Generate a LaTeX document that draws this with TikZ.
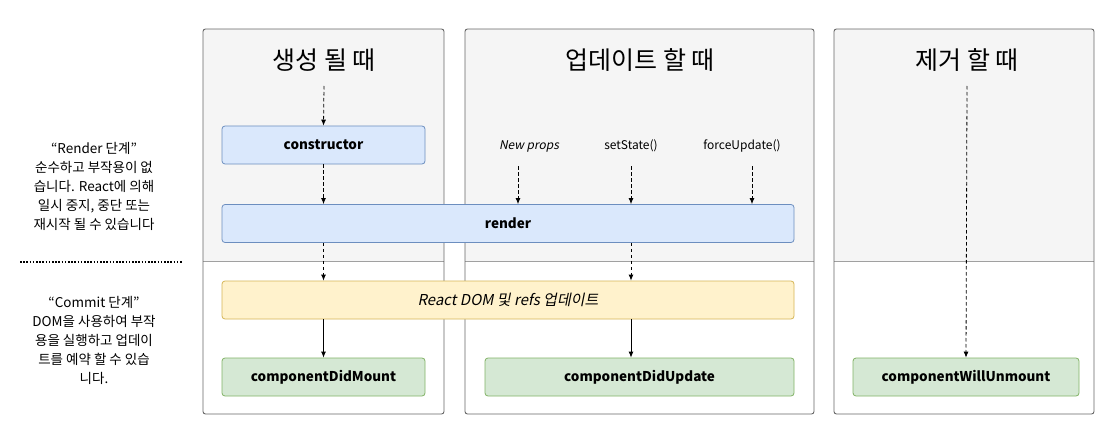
\documentclass[tikz,border=0pt]{standalone}
\usepackage{fontspec}
\setmainfont{Noto Sans CJK KR}[AutoFakeSlant=0.2]
\usetikzlibrary{arrows.meta}
\definecolor{laneGray}{HTML}{F5F5F5}
\definecolor{laneLine}{HTML}{666666}
\definecolor{splitLine}{HTML}{A0A0A0}
\definecolor{blueFill}{HTML}{DAE8FC}
\definecolor{blueLine}{HTML}{6C8EBF}
\definecolor{yellowFill}{HTML}{FFF2CC}
\definecolor{yellowLine}{HTML}{D6B656}
\definecolor{greenFill}{HTML}{D5E8D4}
\definecolor{greenLine}{HTML}{82B366}
\begin{document}
\begin{tikzpicture}[x=1pt, y=-1pt, line join=round,
    lane/.style={draw=laneLine, line width=0.9pt, rounded corners=2.5pt},
    box/.style={rounded corners=3pt, line width=0.8pt, minimum height=38pt,
      inner sep=0pt, text=black},
    bluebox/.style={box, draw=blueLine, fill=blueFill, font=\bfseries\fontsize{13.5}{16}\selectfont},
    yellowbox/.style={box, draw=yellowLine, fill=yellowFill, font=\itshape\fontsize{15}{18}\selectfont},
    greenbox/.style={box, draw=greenLine, fill=greenFill, font=\bfseries\fontsize{13.5}{16}\selectfont},
    title/.style={font=\fontsize{25}{28}\selectfont},
    trigger/.style={font=\fontsize{12}{14}\selectfont},
    note/.style={align=center, font=\fontsize{13.5}{19}\selectfont},
    flow/.style={-{Latex[length=6pt,width=5pt]}, line width=0.8pt},
    dflow/.style={flow, dash pattern=on 3.5pt off 2.5pt}]
  \useasboundingbox (0,0) rectangle (1100,433);
  % 세 개의 열
  \foreach \xa/\xb in {203/444, 465/814, 834/1094} {
    \begin{scope}
      \clip[rounded corners=2.5pt] (\xa,29) rectangle (\xb,414);
      \fill[white] (\xa,29) rectangle (\xb,414);
      \fill[laneGray] (\xa,29) rectangle (\xb,261);
    \end{scope}
    \draw[splitLine, line width=0.8pt] (\xa,261) -- (\xb,261);
    \draw[lane] (\xa,29) rectangle (\xb,414);
  }
  \node[title] (tMount) at (324,60) {생성 될 때};
  \node[title] (tUpdate) at (640,60) {업데이트 할 때};
  \node[title] (tUnmount) at (967,60) {제거 할 때};
  % 단계 설명
  \node[note] (renderNote) at (94,186) {“Render 단계”\\순수하고 부작용이 없\\습니다. React에 의해\\일시 중지, 중단 또는\\재시작 될 수 있습니다};
  \node[note] (commitNote) at (94,340) {“Commit 단계”\\DOM을 사용하여 부작\\용을 실행하고 업데이\\트를 예약 할 수 있습\\니다.};
  \coordinate (dotL) at (20,262);
  \coordinate (dotR) at (183,262);
  \draw[line width=1.6pt, dash pattern=on 1.6pt off 1.6pt] (dotL) -- (dotR);
  % 생명주기 메서드
  \node[bluebox, minimum width=203pt] (ctor) at (323.5,145) {constructor};
  \node[bluebox, minimum width=572pt] (render) at (508,223.5) {render};
  \node[yellowbox, minimum width=572pt] (commit) at (508,300) {React DOM 및 refs 업데이트};
  \node[greenbox, minimum width=203pt] (didMount) at (323.5,377) {componentDidMount};
  \node[greenbox, minimum width=309pt] (didUpdate) at (639.5,377) {componentDidUpdate};
  \node[greenbox, minimum width=226pt] (willUnmount) at (966,377) {componentWillUnmount};
  \node[trigger] (newProps) at (529,146) {\itshape New props};
  \node[trigger] (setState) at (631,146) {setState()};
  \node[trigger] (forceUpd) at (742,146) {forceUpdate()};
  % 화살표
  \coordinate (mountIn) at (324,86);
  \coordinate (unmountIn) at (967,86);
  \coordinate (propsIn) at (518,166);
  \coordinate (stateIn) at (631,166);
  \coordinate (forceIn) at (752,166);
  \draw[dflow] (mountIn) -- (ctor.north);
  \draw[dflow] (ctor.south) -- (ctor.south |- render.north);
  \draw[dflow] (propsIn) -- (propsIn |- render.north);
  \draw[dflow] (stateIn) -- (stateIn |- render.north);
  \draw[dflow] (forceIn) -- (forceIn |- render.north);
  \draw[dflow] (ctor.south |- render.south) -- (ctor.south |- commit.north);
  \draw[dflow] (stateIn |- render.south) -- (stateIn |- commit.north);
  \draw[flow] (ctor.south |- commit.south) -- (didMount.north);
  \draw[flow] (stateIn |- commit.south) -- (stateIn |- didUpdate.north);
  \draw[dflow] (unmountIn) -- (willUnmount.north);
\end{tikzpicture}
\end{document}
